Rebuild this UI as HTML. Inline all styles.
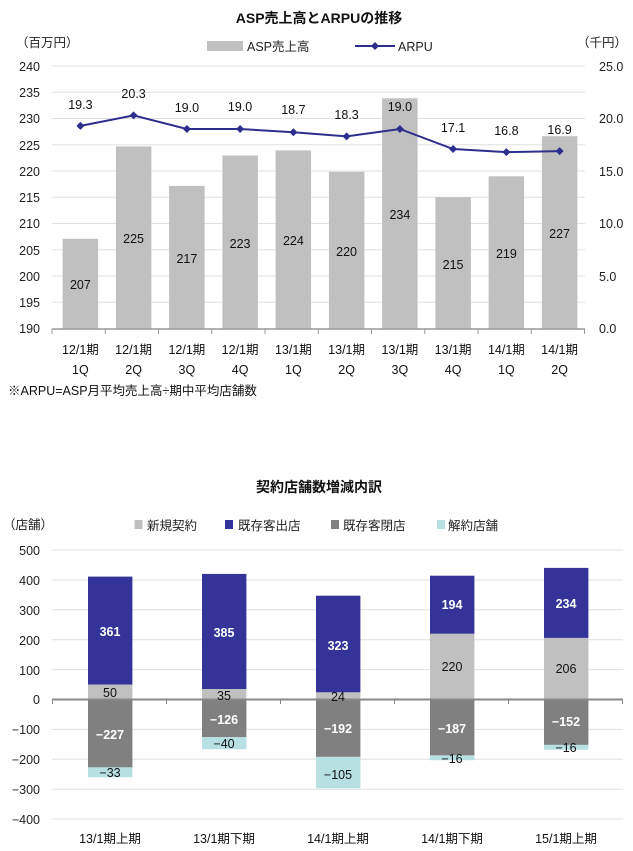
<!DOCTYPE html>
<html><head><meta charset="utf-8"><style>
html,body{margin:0;padding:0;background:#fff;}
svg{display:block;font-family:"Liberation Sans","Noto Sans CJK JP",sans-serif;}
</style></head><body>
<svg width="633" height="851" viewBox="0 0 633 851" xmlns="http://www.w3.org/2000/svg">
<!-- TOP CHART -->
<text x="319" y="23" text-anchor="middle" font-size="14" font-weight="bold" fill="#111">ASP売上高とARPUの推移</text>
<text x="16" y="47" font-size="12.5" fill="#222">（百万円）</text>
<text x="577" y="47" font-size="12.5" fill="#222">（千円）</text>
<rect x="207" y="41" width="36" height="10" fill="#c0c0c0"/>
<text x="247" y="51" font-size="12.5" fill="#222">ASP売上高</text>
<line x1="355" y1="46" x2="395" y2="46" stroke="#2e2e8c" stroke-width="2"/>
<path d="M375 42 L379 46 L375 50 L371 46 Z" fill="#2e2e8c"/>
<text x="398" y="51" font-size="12.5" fill="#222">ARPU</text>
<g stroke="#e0e0e0" stroke-width="1">
<line x1="52" y1="66" x2="585" y2="66"/><line x1="52" y1="92.25" x2="585" y2="92.25"/>
<line x1="52" y1="118.5" x2="585" y2="118.5"/><line x1="52" y1="144.75" x2="585" y2="144.75"/>
<line x1="52" y1="171" x2="585" y2="171"/><line x1="52" y1="197.25" x2="585" y2="197.25"/>
<line x1="52" y1="223.5" x2="585" y2="223.5"/><line x1="52" y1="249.75" x2="585" y2="249.75"/>
<line x1="52" y1="276" x2="585" y2="276"/><line x1="52" y1="302.25" x2="585" y2="302.25"/>
</g>
<g font-size="12.5" fill="#222" text-anchor="end">
<text x="40" y="71">240</text><text x="40" y="97">235</text><text x="40" y="123">230</text><text x="40" y="150">225</text>
<text x="40" y="176">220</text><text x="40" y="202">215</text><text x="40" y="228">210</text><text x="40" y="255">205</text>
<text x="40" y="281">200</text><text x="40" y="307">195</text><text x="40" y="333">190</text>
</g>
<g font-size="12.5" fill="#222">
<text x="599" y="71">25.0</text><text x="599" y="123">20.0</text><text x="599" y="176">15.0</text>
<text x="599" y="228">10.0</text><text x="599" y="281">5.0</text><text x="599" y="333">0.0</text>
</g>
<g fill="#c0c0c0">
<rect x="62.6" y="238.8" width="35.5" height="89.7"/>
<rect x="115.9" y="146.4" width="35.5" height="182.1"/>
<rect x="169.1" y="185.9" width="35.5" height="142.6"/>
<rect x="222.4" y="155.5" width="35.5" height="173"/>
<rect x="275.6" y="150.4" width="35.5" height="178.1"/>
<rect x="328.9" y="171.8" width="35.5" height="156.7"/>
<rect x="382.1" y="98.3" width="35.5" height="230.2"/>
<rect x="435.4" y="197.2" width="35.5" height="131.3"/>
<rect x="488.6" y="176.3" width="35.5" height="152.2"/>
<rect x="541.9" y="136.2" width="35.5" height="192.3"/>
</g>
<line x1="52" y1="329" x2="585" y2="329" stroke="#999" stroke-width="1.5"/>
<g stroke="#999"><line x1="52" y1="329" x2="52" y2="334"/><line x1="105.3" y1="329" x2="105.3" y2="334"/><line x1="158.5" y1="329" x2="158.5" y2="334"/><line x1="211.8" y1="329" x2="211.8" y2="334"/><line x1="265" y1="329" x2="265" y2="334"/><line x1="318.3" y1="329" x2="318.3" y2="334"/><line x1="371.5" y1="329" x2="371.5" y2="334"/><line x1="424.8" y1="329" x2="424.8" y2="334"/><line x1="478" y1="329" x2="478" y2="334"/><line x1="531.3" y1="329" x2="531.3" y2="334"/><line x1="584.5" y1="329" x2="584.5" y2="334"/></g>
<g font-size="12.5" fill="#111" text-anchor="middle">
<text x="80.4" y="289">207</text><text x="133.6" y="243">225</text><text x="186.9" y="263">217</text><text x="240.1" y="248">223</text><text x="293.4" y="245">224</text>
<text x="346.6" y="256">220</text><text x="399.9" y="219">234</text><text x="453.1" y="269">215</text><text x="506.4" y="258">219</text><text x="559.6" y="238">227</text>
</g>
<polyline fill="none" stroke="#2e2e8c" stroke-width="2" points="80.4,125.9 133.6,115.4 186.9,129 240.1,129 293.4,132.2 346.6,136.4 399.9,129 453.1,149 506.4,152.1 559.6,151.1"/>
<g fill="#2e2e8c">
<path d="M80.4 121.9l4 4-4 4-4-4z"/><path d="M133.6 111.4l4 4-4 4-4-4z"/><path d="M186.9 125l4 4-4 4-4-4z"/><path d="M240.1 125l4 4-4 4-4-4z"/><path d="M293.4 128.2l4 4-4 4-4-4z"/>
<path d="M346.6 132.4l4 4-4 4-4-4z"/><path d="M399.9 125l4 4-4 4-4-4z"/><path d="M453.1 145l4 4-4 4-4-4z"/><path d="M506.4 148.1l4 4-4 4-4-4z"/><path d="M559.6 147.1l4 4-4 4-4-4z"/>
</g>
<g font-size="12.5" fill="#111" text-anchor="middle">
<text x="80.4" y="109">19.3</text><text x="133.6" y="98">20.3</text><text x="186.9" y="112">19.0</text><text x="240.1" y="111">19.0</text><text x="293.4" y="114">18.7</text>
<text x="346.6" y="119">18.3</text><text x="399.9" y="111">19.0</text><text x="453.1" y="132">17.1</text><text x="506.4" y="135">16.8</text><text x="559.6" y="134">16.9</text>
</g>
<g font-size="12.5" fill="#111" text-anchor="middle">
<text x="80.4" y="354">12/1期</text><text x="133.6" y="354">12/1期</text><text x="186.9" y="354">12/1期</text><text x="240.1" y="354">12/1期</text><text x="293.4" y="354">13/1期</text>
<text x="346.6" y="354">13/1期</text><text x="399.9" y="354">13/1期</text><text x="453.1" y="354">13/1期</text><text x="506.4" y="354">14/1期</text><text x="559.6" y="354">14/1期</text>
<text x="80.4" y="374">1Q</text><text x="133.6" y="374">2Q</text><text x="186.9" y="374">3Q</text><text x="240.1" y="374">4Q</text><text x="293.4" y="374">1Q</text>
<text x="346.6" y="374">2Q</text><text x="399.9" y="374">3Q</text><text x="453.1" y="374">4Q</text><text x="506.4" y="374">1Q</text><text x="559.6" y="374">2Q</text>
</g>
<text x="8" y="395" font-size="12.5" fill="#111">※ARPU=ASP月平均売上高÷期中平均店舗数</text>

<!-- BOTTOM CHART -->
<text x="319" y="492" text-anchor="middle" font-size="14" font-weight="bold" fill="#111">契約店舗数増減内訳</text>
<text x="3" y="529" font-size="12.5" fill="#222">（店舗）</text>
<rect x="134.5" y="520" width="8" height="9" fill="#c0c0c0"/><text x="147" y="530" font-size="12.5" fill="#222">新規契約</text>
<rect x="225" y="520" width="8" height="9" fill="#333399"/><text x="238" y="530" font-size="12.5" fill="#222">既存客出店</text>
<rect x="331" y="520" width="8" height="9" fill="#808080"/><text x="343" y="530" font-size="12.5" fill="#222">既存客閉店</text>
<rect x="437" y="520" width="8" height="9" fill="#b7e0e3"/><text x="448" y="530" font-size="12.5" fill="#222">解約店舗</text>
<g stroke="#e0e0e0">
<line x1="52" y1="550" x2="623" y2="550"/><line x1="52" y1="580" x2="623" y2="580"/><line x1="52" y1="609.8" x2="623" y2="609.8"/>
<line x1="52" y1="639.7" x2="623" y2="639.7"/><line x1="52" y1="669.6" x2="623" y2="669.6"/>
<line x1="52" y1="729.4" x2="623" y2="729.4"/><line x1="52" y1="759.3" x2="623" y2="759.3"/><line x1="52" y1="789.2" x2="623" y2="789.2"/><line x1="52" y1="819" x2="623" y2="819"/>
</g>
<g font-size="12.5" fill="#222" text-anchor="end">
<text x="40" y="555">500</text><text x="40" y="585">400</text><text x="40" y="615">300</text><text x="40" y="645">200</text><text x="40" y="675">100</text>
<text x="40" y="704">0</text><text x="40" y="734">−100</text><text x="40" y="764">−200</text><text x="40" y="794">−300</text><text x="40" y="824">−400</text>
</g>
<!-- bars: zero 699.5, 0.299 px/unit -->
<g>
<rect x="88" y="684.5" width="44.4" height="15" fill="#c0c0c0"/>
<rect x="88" y="576.6" width="44.4" height="107.9" fill="#333399"/>
<rect x="88" y="699.5" width="44.4" height="67.9" fill="#808080"/>
<rect x="88" y="767.4" width="44.4" height="9.9" fill="#b7e0e3"/>

<rect x="202" y="689" width="44.4" height="10.5" fill="#c0c0c0"/>
<rect x="202" y="573.9" width="44.4" height="115.1" fill="#333399"/>
<rect x="202" y="699.5" width="44.4" height="37.7" fill="#808080"/>
<rect x="202" y="737.2" width="44.4" height="12" fill="#b7e0e3"/>

<rect x="316" y="692.3" width="44.4" height="7.2" fill="#c0c0c0"/>
<rect x="316" y="595.7" width="44.4" height="96.6" fill="#333399"/>
<rect x="316" y="699.5" width="44.4" height="57.4" fill="#808080"/>
<rect x="316" y="756.9" width="44.4" height="31.4" fill="#b7e0e3"/>

<rect x="430" y="633.7" width="44.4" height="65.8" fill="#c0c0c0"/>
<rect x="430" y="575.7" width="44.4" height="58" fill="#333399"/>
<rect x="430" y="699.5" width="44.4" height="55.9" fill="#808080"/>
<rect x="430" y="755.4" width="44.4" height="4.8" fill="#b7e0e3"/>

<rect x="544" y="637.9" width="44.4" height="61.6" fill="#c0c0c0"/>
<rect x="544" y="567.9" width="44.4" height="70" fill="#333399"/>
<rect x="544" y="699.5" width="44.4" height="45.4" fill="#808080"/>
<rect x="544" y="744.9" width="44.4" height="4.8" fill="#b7e0e3"/>
</g>
<line x1="52" y1="699.5" x2="623" y2="699.5" stroke="#888" stroke-width="2"/>
<g stroke="#888"><line x1="52.5" y1="699" x2="52.5" y2="704"/><line x1="166.5" y1="699" x2="166.5" y2="704"/><line x1="280.5" y1="699" x2="280.5" y2="704"/><line x1="394.5" y1="699" x2="394.5" y2="704"/><line x1="508.5" y1="699" x2="508.5" y2="704"/><line x1="622.5" y1="699" x2="622.5" y2="704"/></g>
<g font-size="12.5" font-weight="bold" fill="#fff" text-anchor="middle">
<text x="110" y="636">361</text><text x="224" y="637">385</text><text x="338" y="650">323</text><text x="452" y="609">194</text><text x="566" y="608">234</text>
<text x="110" y="739">−227</text><text x="224" y="724">−126</text><text x="338" y="733">−192</text><text x="452" y="733">−187</text><text x="566" y="726">−152</text>
</g>
<g font-size="12.5" fill="#111" text-anchor="middle">
<text x="110" y="697">50</text><text x="224" y="700">35</text><text x="338" y="701">24</text><text x="452" y="671">220</text><text x="566" y="673">206</text>
<text x="110" y="777">−33</text><text x="224" y="748">−40</text><text x="338" y="779">−105</text><text x="452" y="763">−16</text><text x="566" y="752">−16</text>
</g>
<g font-size="12.5" fill="#111" text-anchor="middle">
<text x="110" y="843">13/1期上期</text><text x="224" y="843">13/1期下期</text><text x="338" y="843">14/1期上期</text><text x="452" y="843">14/1期下期</text><text x="566" y="843">15/1期上期</text>
</g>
</svg>
</body></html>
